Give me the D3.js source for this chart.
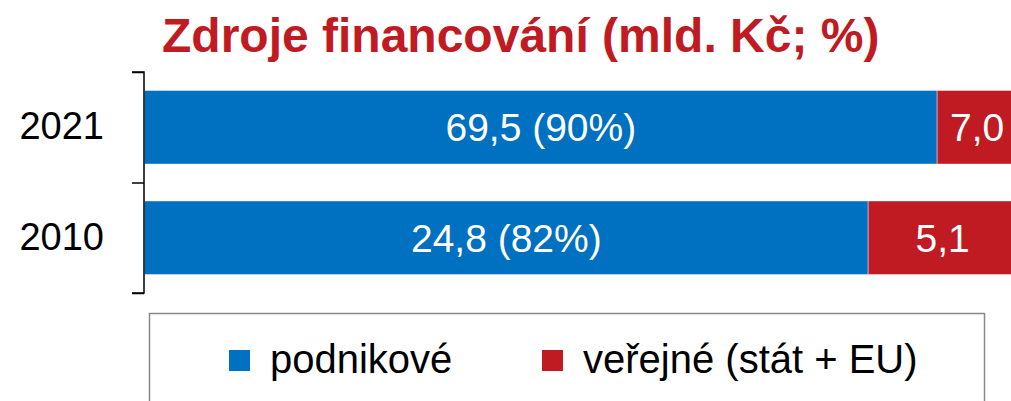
<!DOCTYPE html>
<html>
<head>
<meta charset="utf-8">
<script src="https://cdn.jsdelivr.net/npm/d3@7"></script>
<style>
  body { margin: 0; background: #fff; }
  svg { display: block; font-family: Arial, "Liberation Sans", sans-serif; }
</style>
</head>
<body>
<svg id="chart" width="1011" height="401"></svg>
<script>
// data
var years = ["2021", "2010"];
var podnikove = [69.5, 24.8];
var verejne = [7.0, 5.1];
var podnikovePct = [90, 82]; // as printed in the source
var seriesNames = ["podnikové", "veřejné (stát + EU)"];
var colors = ["#0070C0", "#C01A22"];
var title = "Zdroje financování (mld. Kč; %)";

var fmt = function(v) { return d3.format(".1f")(v).replace(".", ","); };

var svg = d3.select("#chart");

var rows = years.map(function(y, i) {
  var total = podnikove[i] + verejne[i];
  return { year: y, a: podnikove[i], b: verejne[i], pct: podnikovePct[i], share: podnikove[i] / total };
});

var x = d3.scaleLinear().domain([0, 1]).range([144.5, 1017]);
var y = d3.scaleBand().domain(years).range([72, 293]).paddingInner(0.335).paddingOuter(0.1675);
var yEdge = d3.scaleLinear().domain([0, years.length]).range([72, 293]);

// title
svg.append("text")
  .attr("x", 162).attr("y", 52)
  .attr("fill", "#C01A22")
  .attr("font-size", 48).attr("font-weight", "bold")
  .text(title);

// bars
var g = svg.append("g");
rows.forEach(function(d) {
  g.append("rect")
    .attr("x", x(0)).attr("y", y(d.year))
    .attr("width", x(d.share) - x(0)).attr("height", y.bandwidth())
    .attr("fill", colors[0]).attr("stroke", "#fff").attr("stroke-opacity", 0.4).attr("stroke-width", 1);
  g.append("rect")
    .attr("x", x(d.share)).attr("y", y(d.year))
    .attr("width", x(1) - x(d.share)).attr("height", y.bandwidth())
    .attr("fill", colors[1]).attr("stroke", "#fff").attr("stroke-opacity", 0.4).attr("stroke-width", 1);

  var cy = y(d.year) + y.bandwidth() / 2 + 14;
  g.append("text")
    .attr("x", (x(0) + x(d.share)) / 2).attr("y", cy)
    .attr("text-anchor", "middle").attr("fill", "#fff").attr("font-size", 39)
    .text(fmt(d.a) + " (" + d.pct + "%)");
  g.append("text")
    .attr("x", (x(d.share) + x(1)) / 2).attr("y", cy)
    .attr("text-anchor", "middle").attr("fill", "#fff").attr("font-size", 39)
    .text(fmt(d.b));
});

// category axis: line with ticks at band edges
var edgeAxis = svg.append("g")
  .attr("transform", "translate(144,0)")
  .call(d3.axisLeft(yEdge).tickValues(d3.range(years.length + 1)).tickSize(12).tickFormat(""));
edgeAxis.selectAll("path, line").attr("stroke", "#000").attr("stroke-width", 1.5);
edgeAxis.select(".domain").attr("d", "M-12,72H0V293H-12");

var labelAxis = svg.append("g")
  .attr("transform", "translate(144,0)")
  .call(d3.axisLeft(y).tickSize(0).tickPadding(40));
labelAxis.select(".domain").remove();
labelAxis.selectAll("text")
  .attr("font-size", 38).attr("fill", "#000")
  .attr("font-family", "Arial, 'Liberation Sans', sans-serif");

// legend
var legend = svg.append("g");
legend.append("rect")
  .attr("x", 149.5).attr("y", 313.5).attr("width", 835).attr("height", 120)
  .attr("fill", "#fff").attr("stroke", "#888").attr("stroke-width", 1.5);
var legendX = [229, 542];
seriesNames.forEach(function(name, i) {
  legend.append("rect")
    .attr("x", legendX[i]).attr("y", 350).attr("width", 21).attr("height", 21)
    .attr("fill", colors[i]);
  legend.append("text")
    .attr("x", legendX[i] + 41).attr("y", 373)
    .attr("font-size", 40).attr("fill", "#000")
    .text(name);
});
</script>
</body>
</html>
